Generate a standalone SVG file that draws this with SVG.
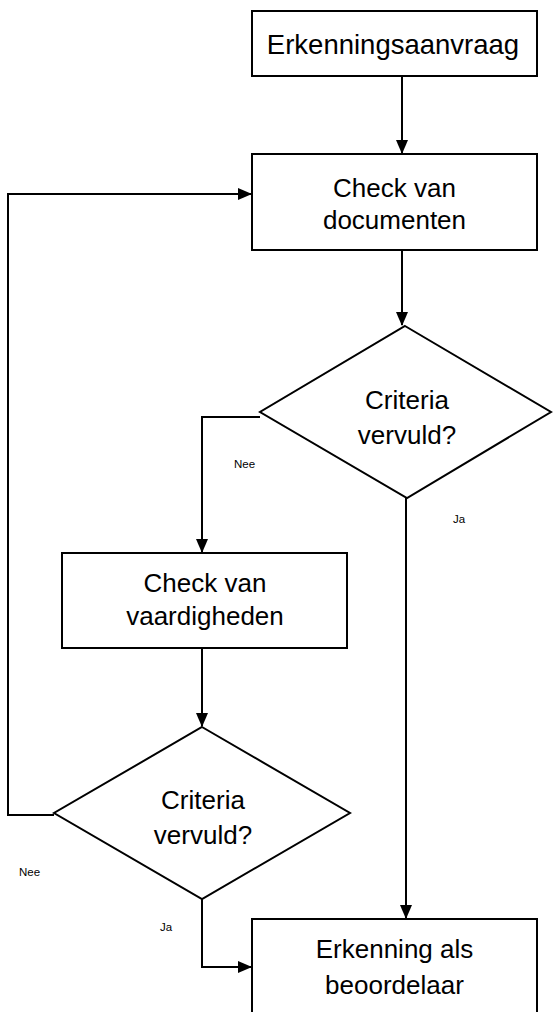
<svg xmlns="http://www.w3.org/2000/svg" width="553" height="1012" viewBox="0 0 553 1012">
<defs>
<marker id="arr" markerUnits="userSpaceOnUse" markerWidth="14" markerHeight="12" refX="13" refY="6" orient="auto">
<path d="M0,0 L14,6 L0,12 Z" fill="#000"/>
</marker>
<style>
.box{fill:#fff;stroke:#000;stroke-width:2}
.conn{fill:none;stroke:#000;stroke-width:2}
.t{font-family:"Liberation Sans",Arial,sans-serif;font-size:26px;fill:#000;text-anchor:middle}
.lbl{font-family:"Liberation Sans",Arial,sans-serif;font-size:11.5px;fill:#000}
</style>
</defs>
<rect width="553" height="1012" fill="#fff"/>
<g id="connectors">
<path class="conn" d="M402,76 L402,153" marker-end="url(#arr)"/>
<path class="conn" d="M402,250 L402,325" marker-end="url(#arr)"/>
<path class="conn" d="M260,417 L202,417 L202,552" marker-end="url(#arr)"/>
<path class="conn" d="M406,498 L406,918" marker-end="url(#arr)"/>
<path class="conn" d="M202,648 L202,726" marker-end="url(#arr)"/>
<path class="conn" d="M54,815 L8,815 L8,194 L251,194" marker-end="url(#arr)"/>
<path class="conn" d="M202,899 L202,967 L251,967" marker-end="url(#arr)"/>
<text class="lbl" x="234" y="468">Nee</text>
<text class="lbl" x="453" y="523">Ja</text>
<text class="lbl" x="19" y="876">Nee</text>
<text class="lbl" x="160" y="931">Ja</text>
</g>
<g id="n1">
<rect class="box" x="252" y="11" width="285" height="65"/>
<text class="t" x="393" y="54" style="font-size:27.5px">Erkenningsaanvraag</text>
</g>
<g id="n2">
<rect class="box" x="252" y="154" width="285" height="96"/>
<text class="t" x="394.5" y="197">Check van</text>
<text class="t" x="394.5" y="229">documenten</text>
</g>
<g id="n3">
<polygon class="box" points="405,326 551,412 407,498 260,412"/>
<text class="t" x="407" y="409">Criteria</text>
<text class="t" x="407" y="444">vervuld?</text>
</g>
<g id="n4">
<rect class="box" x="62" y="553" width="285" height="95"/>
<text class="t" x="205" y="592">Check van</text>
<text class="t" x="205" y="625">vaardigheden</text>
</g>
<g id="n5">
<polygon class="box" points="202,727 350,813 202,899 54,813"/>
<text class="t" x="203" y="809">Criteria</text>
<text class="t" x="203" y="844">vervuld?</text>
</g>
<g id="n6">
<rect class="box" x="252" y="919" width="285" height="100"/>
<text class="t" x="394.5" y="958">Erkenning als</text>
<text class="t" x="394.5" y="994">beoordelaar</text>
</g>
</svg>
